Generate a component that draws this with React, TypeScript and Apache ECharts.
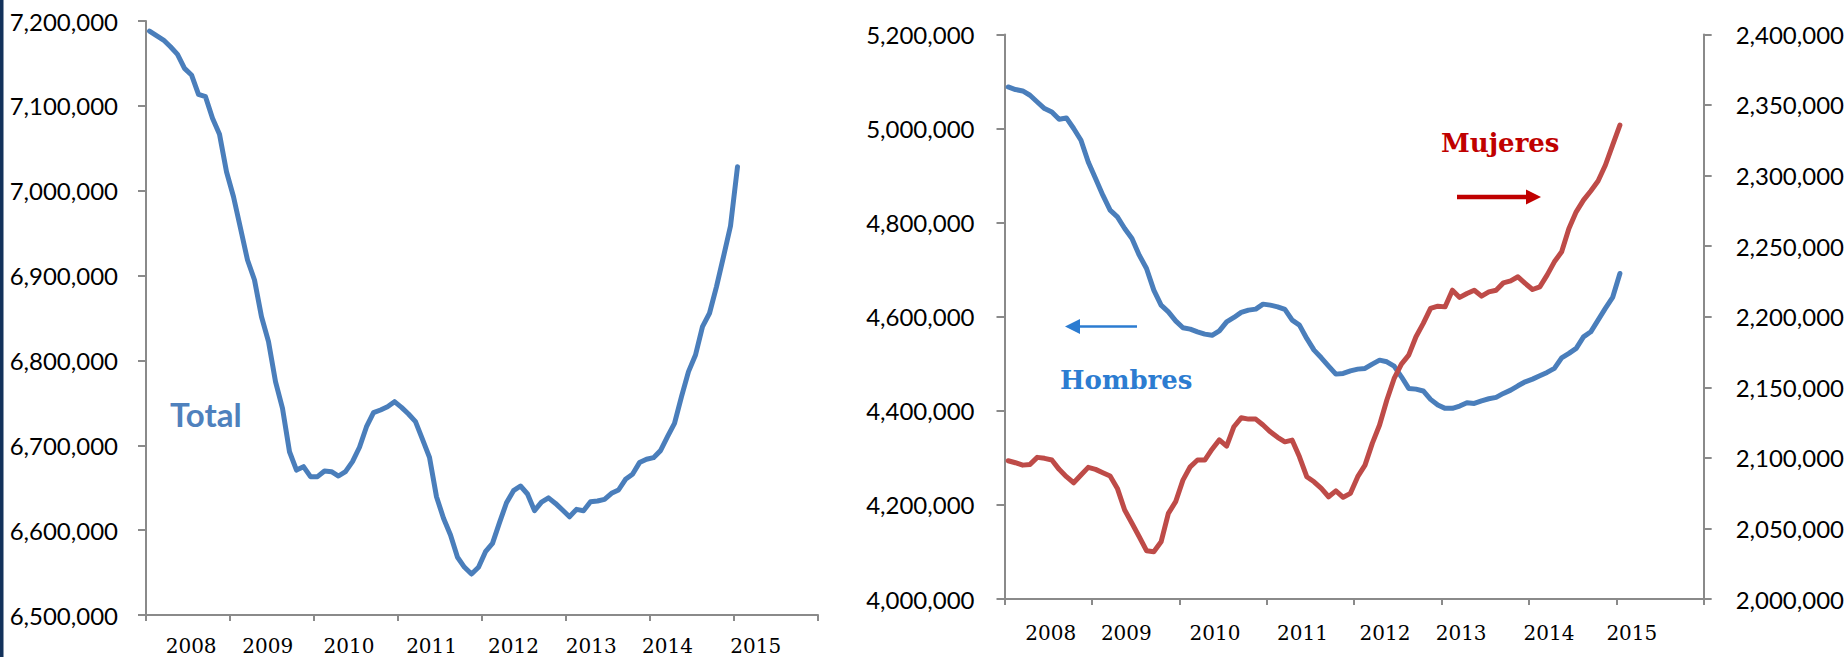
import React, { useEffect, useRef } from "react";
import * as echarts from "echarts";

// Monthly series, Jan 2008 .. Jan 2015 (85 months)
const totalValues = [
  7188000, 7182700, 7177600, 7169700, 7160700, 7144200, 7136400, 7113600, 7110800, 7085300,
  7066500, 7022400, 6992900, 6955700, 6918300, 6894800, 6851500, 6822100, 6775000, 6743600,
  6692400, 6670800, 6674800, 6663000, 6663000, 6669700, 6668900, 6663800, 6669000, 6680800,
  6697700, 6721900, 6738400, 6741600, 6745500, 6751400, 6744700, 6736900, 6727800, 6707000,
  6685800, 6639400, 6614000, 6594300, 6568000, 6556200, 6548300, 6556200, 6574600, 6584400,
  6608800, 6632300, 6646500, 6652000, 6642600, 6623000, 6633000, 6638000, 6631500, 6623700,
  6615800, 6624500, 6622900, 6633500, 6634300, 6636300, 6643400, 6647300, 6659900, 6665800,
  6679600, 6683500, 6685400, 6693700, 6710200, 6725900, 6757300, 6786800, 6806400, 6839800,
  6855600, 6887000, 6922300, 6958400, 7028300,
];

const hombresValues = [
  5088300, 5082800, 5079800, 5070700, 5056400, 5042500, 5035200, 5019700, 5022500, 5000000,
  4975100, 4929000, 4893800, 4858300, 4826500, 4812200, 4787600, 4766300, 4730900, 4702600,
  4656500, 4624700, 4610400, 4591300, 4576500, 4573700, 4568000, 4563100, 4560600, 4570100,
  4589200, 4598500, 4609200, 4614100, 4616200, 4626800, 4624700, 4621100, 4615500, 4592800,
  4582200, 4553900, 4529100, 4512700, 4495100, 4478100, 4479600, 4485100, 4488700, 4490200,
  4499400, 4507800, 4504300, 4495100, 4472400, 4447700, 4446200, 4442300, 4424400, 4412300,
  4405300, 4405300, 4410200, 4417200, 4415900, 4421400, 4425700, 4428600, 4437100, 4444100,
  4453300, 4461800, 4467500, 4474500, 4481700, 4490200, 4512700, 4522100, 4532700, 4557300,
  4568000, 4592800, 4617700, 4641000, 4692000,
];

const mujeresValues = [
  2098000, 2096600, 2094900, 2095400, 2100400, 2099700, 2098500, 2091900, 2086700, 2082400,
  2087900, 2093300, 2091900, 2089500, 2087200, 2078400, 2063100, 2053700, 2044200, 2034300,
  2033600, 2040600, 2060700, 2069000, 2084300, 2093700, 2098500, 2098500, 2106200, 2112800,
  2108400, 2122100, 2128400, 2127500, 2127500, 2123300, 2118500, 2114600, 2111400, 2112600,
  2100800, 2086700, 2083100, 2078400, 2072500, 2076700, 2072100, 2074900, 2086700, 2094900,
  2110300, 2123300, 2141000, 2156300, 2166500, 2172800, 2185800, 2195300, 2205900, 2207500,
  2207000, 2218800, 2213700, 2216500, 2218800, 2214600, 2217600, 2218800, 2224000, 2225400,
  2228300, 2223600, 2219300, 2221200, 2229500, 2238900, 2246000, 2262500, 2274300, 2282600,
  2289100, 2296200, 2307300, 2321500, 2335700,
];

const firstYear = 2008;
const monthsOnAxis = 96;
// Year label placement along the month axis (as drawn in the source)
const yearLabelAtLeft = [6.45, 17.4, 29.0, 40.8, 52.5, 63.6, 74.5, 87.1];
const yearLabelAtRight = [6.34, 16.73, 28.9, 40.92, 52.24, 62.7, 74.77, 86.14];

const AXIS_COLOR = "#8a8a8a";
const BLUE = "#4A7EBB";
const RED = "#BE4B48";

const toPoints = (vals: number[]) => vals.map((v, i) => [i + 0.5, v]);
const fmtNum = (v: number) => String(Math.round(v)).replace(/\B(?=(\d{3})+(?!\d))/g, ",");
const yearTicks = Array.from({ length: monthsOnAxis / 12 + 1 }, (_, k) => k * 12);

function makeXAxis(gridIndex: number, labelAt: number[], margin: number) {
  return {
    gridIndex,
    type: "value",
    min: 0,
    max: monthsOnAxis,
    interval: 12,
    splitLine: { show: false },
    axisLine: { show: true, lineStyle: { color: AXIS_COLOR, width: 2 } },
    axisTick: {
      show: true,
      length: 6,
      customValues: yearTicks,
      lineStyle: { color: AXIS_COLOR, width: 2 },
    },
    axisLabel: {
      customValues: labelAt,
      margin,
      color: "#000",
      fontFamily: "DejaVu Serif",
      fontSize: 20,
      formatter: (v: number) => String(firstYear + Math.floor(v / 12)),
    },
  };
}

function makeYAxis(gridIndex: number, min: number, max: number, interval: number, position: string, margin: number) {
  return {
    gridIndex,
    type: "value",
    position,
    min,
    max,
    interval,
    splitLine: { show: false },
    axisLine: { show: true, lineStyle: { color: AXIS_COLOR, width: 2 } },
    axisTick: { show: true, length: 8, lineStyle: { color: AXIS_COLOR, width: 2 } },
    axisLabel: {
      margin,
      color: "#000",
      fontFamily: "Lato",
      fontSize: 24,
      formatter: (v: number) => fmtNum(v),
    },
  };
}

export default function App() {
  const ref = useRef<HTMLDivElement>(null);

  useEffect(() => {
    if (!ref.current) return;
    const chart = echarts.init(ref.current, null, { renderer: "svg" });
    const lineStyle = (color: string) => ({ color, width: 5, join: "round", cap: "round" });
    chart.setOption({
      animation: false,
      backgroundColor: "#ffffff",
      grid: [
        { left: 146, top: 21, width: 672, height: 594 },
        { left: 1004.5, top: 34.4, width: 700.7, height: 564.7 },
      ],
      xAxis: [makeXAxis(0, yearLabelAtLeft, 21), makeXAxis(1, yearLabelAtRight, 24)],
      yAxis: [
        makeYAxis(0, 6500000, 7200000, 100000, "left", 28),
        makeYAxis(1, 4000000, 5200000, 200000, "left", 30),
        makeYAxis(1, 2000000, 2400000, 50000, "right", 32),
      ],
      series: [
        {
          name: "Total",
          type: "line",
          xAxisIndex: 0,
          yAxisIndex: 0,
          data: toPoints(totalValues),
          showSymbol: false,
          symbol: "none",
          lineStyle: lineStyle(BLUE),
          itemStyle: { color: BLUE },
        },
        {
          name: "Hombres",
          type: "line",
          xAxisIndex: 1,
          yAxisIndex: 1,
          data: toPoints(hombresValues),
          showSymbol: false,
          symbol: "none",
          lineStyle: lineStyle(BLUE),
          itemStyle: { color: BLUE },
        },
        {
          name: "Mujeres",
          type: "line",
          xAxisIndex: 1,
          yAxisIndex: 2,
          data: toPoints(mujeresValues),
          showSymbol: false,
          symbol: "none",
          lineStyle: lineStyle(RED),
          itemStyle: { color: RED },
        },
      ],
      graphic: [
        { type: "rect", shape: { x: 0, y: 0, width: 3.5, height: 657 }, style: { fill: "#13325B" } },
        {
          type: "text",
          x: 170,
          y: 414,
          style: {
            text: "Total",
            fill: "#4F81BD",
            font: "bold 33px Lato",
            verticalAlign: "middle",
            align: "left",
          },
        },
        {
          type: "text",
          x: 1060,
          y: 380,
          style: {
            text: "Hombres",
            fill: "#2C7CD1",
            font: "bold 26px 'DejaVu Serif'",
            verticalAlign: "middle",
            align: "left",
          },
        },
        {
          type: "text",
          x: 1441,
          y: 143,
          style: {
            text: "Mujeres",
            fill: "#C00000",
            font: "bold 26px 'DejaVu Serif'",
            verticalAlign: "middle",
            align: "left",
          },
        },
        {
          type: "line",
          shape: { x1: 1078, y1: 326.5, x2: 1137, y2: 326.5 },
          style: { stroke: "#2C7CD1", lineWidth: 2.5 },
        },
        {
          type: "polygon",
          shape: { points: [[1065, 326.5], [1080, 319], [1080, 334]] },
          style: { fill: "#2C7CD1" },
        },
        {
          type: "line",
          shape: { x1: 1457, y1: 197, x2: 1528, y2: 197 },
          style: { stroke: "#C00000", lineWidth: 4.5 },
        },
        {
          type: "polygon",
          shape: { points: [[1541, 197], [1526, 189.5], [1526, 204.5]] },
          style: { fill: "#C00000" },
        },
      ],
    });
    return () => chart.dispose();
  }, []);

  return (
    <div
      ref={ref}
      style={{ position: "fixed", left: 0, top: 0, width: 1847, height: 657, background: "#fff" }}
    />
  );
}
